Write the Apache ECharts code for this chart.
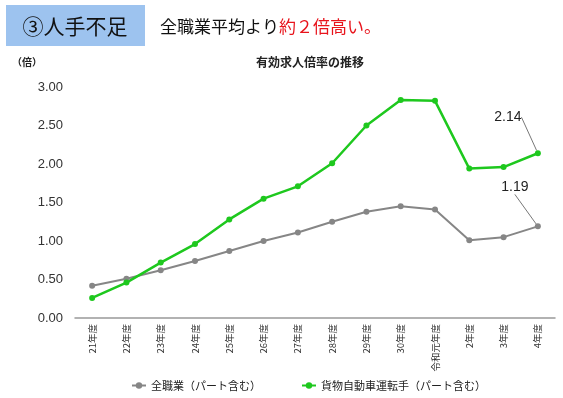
<!DOCTYPE html>
<html>
<head>
<meta charset="utf-8">
<script src="https://cdn.jsdelivr.net/npm/echarts@6/dist/echarts.min.js"></script>
<style>
  html, body { margin: 0; padding: 0; background: #fff; }
  #chart { width: 563px; height: 398px; }
</style>
</head>
<body>
<div id="chart"></div>
<script>
var FONT = '"Noto Sans CJK JP", "Noto Sans", sans-serif';

// 年度
var categories = ['21年度', '22年度', '23年度', '24年度', '25年度', '26年度', '27年度',
                  '28年度', '29年度', '30年度', '令和元年度', '2年度', '3年度', '4年度'];

// 有効求人倍率（倍）
var allJobs = [0.42, 0.51, 0.62, 0.74, 0.87, 1.00, 1.11, 1.25, 1.38, 1.45, 1.41, 1.01, 1.05, 1.19];
var truckDrivers = [0.26, 0.46, 0.72, 0.96, 1.28, 1.55, 1.71, 2.01, 2.50, 2.83, 2.82, 1.94, 1.96, 2.14];

var seriesNames = ['全職業（パート含む）', '貨物自動車運転手（パート含む）'];

// 最後の点だけラベルを出す
function lastLabel(values) {
	return values.map(function (v, i) {
		if (i !== values.length - 1) return v;
		return { value: v, label: { show: true } };
	});
}

var chart = echarts.init(document.getElementById('chart'));

var options = {
	animation: false,
	textStyle: { fontFamily: FONT },
	graphic: [
		{
			type: 'rect',
			shape: { x: 6, y: 5, width: 139, height: 41 },
			style: { fill: '#9dc3ef' }
		},
		{
			type: 'text',
			x: 75, y: 26,
			style: {
				text: '③人手不足', fill: '#111', font: '21px ' + FONT,
				textAlign: 'center', textVerticalAlign: 'middle'
			}
		},
		{
			type: 'text',
			x: 160, y: 27,
			style: {
				text: '{b|全職業平均より}{r|約２倍高い。}',
				textVerticalAlign: 'middle',
				rich: {
					b: { fill: '#111', fontSize: 17, fontFamily: FONT },
					r: { fill: '#e8141c', fontSize: 17, fontFamily: FONT }
				}
			}
		},
		{
			type: 'text',
			x: 310, y: 62,
			style: {
				text: '有効求人倍率の推移', fill: '#222', font: 'bold 12px ' + FONT,
				textAlign: 'center', textVerticalAlign: 'middle'
			}
		},
		{
			type: 'text',
			x: 12, y: 62,
			style: {
				text: '（倍）', fill: '#222', font: 'bold 10px ' + FONT,
				textVerticalAlign: 'middle'
			}
		}
	],
	legend: {
		bottom: 2,
		left: 126,
		itemGap: 40,
		itemWidth: 14,
		itemHeight: 8,
		textStyle: { fontSize: 11, color: '#222', fontFamily: FONT },
		data: seriesNames
	},
	grid: { left: 75, right: 8, top: 87, bottom: 80 },
	xAxis: {
		type: 'category',
		data: categories,
		boundaryGap: true,
		axisLine: { lineStyle: { color: '#999', width: 1.5 } },
		axisTick: { show: false },
		axisLabel: {
			rotate: 90,
			interval: 0,
			fontSize: 9.5,
			color: '#333',
			margin: 6,
			fontFamily: FONT
		}
	},
	yAxis: {
		type: 'value',
		min: 0,
		max: 3,
		interval: 0.5,
		axisLine: { show: false },
		axisTick: { show: false },
		splitLine: { show: false },
		axisLabel: {
			fontSize: 13,
			color: '#333',
			margin: 12,
			fontFamily: 'Arial, "Liberation Sans", sans-serif',
			formatter: function (v) { return v.toFixed(2); }
		}
	},
	series: [
		{
			name: seriesNames[0],
			type: 'line',
			data: lastLabel(allJobs),
			symbol: 'circle',
			symbolSize: 6,
			itemStyle: { color: '#868686' },
			lineStyle: { color: '#868686', width: 2 },
			label: {
				show: false,
				position: 'top',
				fontSize: 14,
				color: '#222',
				fontFamily: 'Arial, "Liberation Sans", sans-serif',
				formatter: function (p) { return p.value.toFixed(2); }
			},
			labelLayout: { dx: -23, dy: -24 },
			labelLine: { show: true, lineStyle: { color: '#777', width: 1 } }
		},
		{
			name: seriesNames[1],
			type: 'line',
			data: lastLabel(truckDrivers),
			symbol: 'circle',
			symbolSize: 6,
			itemStyle: { color: '#1ec81e' },
			lineStyle: { color: '#1ec81e', width: 2.5 },
			label: {
				show: false,
				position: 'top',
				fontSize: 14,
				color: '#222',
				fontFamily: 'Arial, "Liberation Sans", sans-serif',
				formatter: function (p) { return p.value.toFixed(2); }
			},
			labelLayout: { dx: -30, dy: -21 },
			labelLine: { show: true, lineStyle: { color: '#777', width: 1 } }
		}
	]
};

chart.setOption(options);
</script>
</body>
</html>
